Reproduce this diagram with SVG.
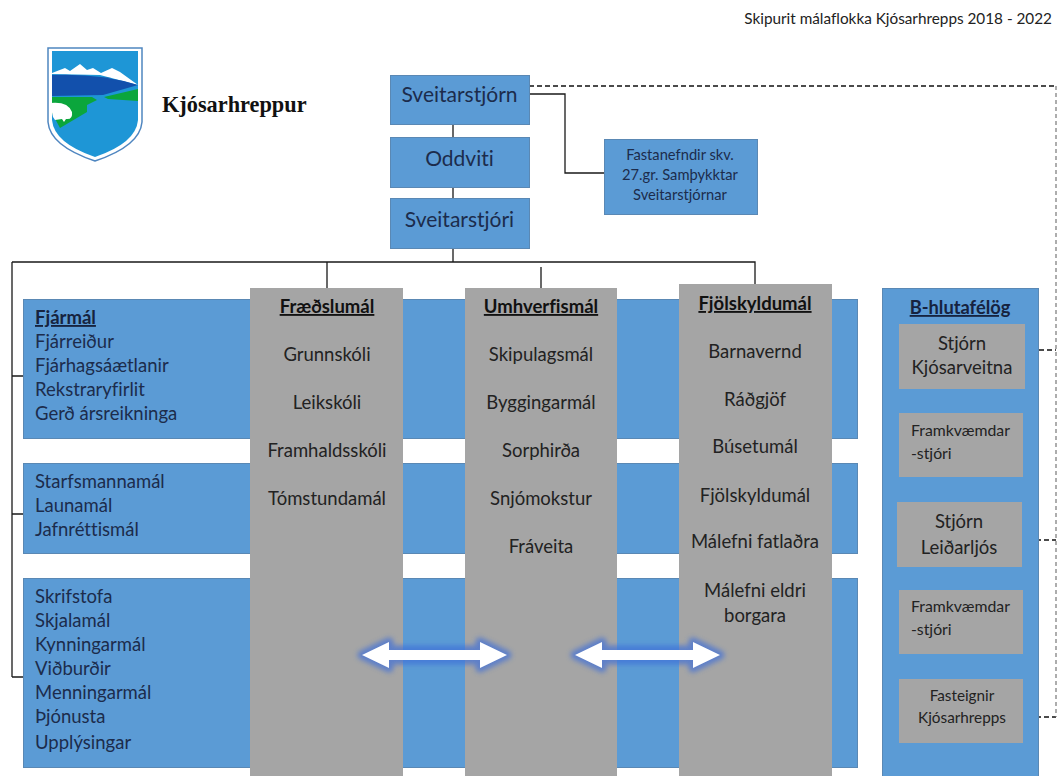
<svg xmlns="http://www.w3.org/2000/svg" width="1057" height="776" viewBox="0 0 1057 776">
<defs>
<filter id="glow" x="-20%" y="-80%" width="140%" height="260%"><feGaussianBlur stdDeviation="2.800"/></filter>
<g id="dbl"><path d="M0 0L27-13V-5H118V-13L145 0L118 13V5H27V13Z" fill="#3f6fd8" stroke="#3f6fd8" stroke-width="9" stroke-linejoin="round" opacity=".7" filter="url(#glow)"/><path d="M0 0L27-13V-5H118V-13L145 0L118 13V5H27V13Z" fill="#fff"/></g>
</defs>
<style>
text{font-family:Lato,"Liberation Sans",sans-serif;fill:#1c2c4c;font-variant-ligatures:none}
.l{font-size:18.500px}
.c{text-anchor:middle}
.g{font-size:18.500px;fill:#222;text-anchor:middle}
.b{font-weight:700;text-decoration:underline;fill:#111}
.blue{fill:#5b9bd5;stroke:#5a88b4;stroke-width:1}
.grey{fill:#a5a5a5}
.ln{fill:none;stroke:#1a1a1a;stroke-width:1.300}
.da{fill:none;stroke:#111;stroke-width:1.400;stroke-dasharray:5 3}
.dv{fill:none;stroke:#777;stroke-width:1.200;stroke-dasharray:4 3}
</style>
<rect width="1057" height="776" fill="#fff"/>
<text id="title" x="1052" y="24" text-anchor="end" style="font-size:15.300px;fill:#222">Skipurit málaflokka Kjósarhrepps 2018 - 2022</text>

<g id="logo">
<path d="M48 48H142V122Q140 146 95 161Q50 146 48 122Z" fill="#fff" stroke="#4f86c0" stroke-width="1.500"/>
<path d="M52 51H138V120Q136 143 95 157Q54 143 52 120Z" fill="#1e96d6"/>
<path d="M52 73L65 68L70 71L80 64L87 70L93 68L101 73L112 68L120 72L138 85L100 75L52 74Z" fill="#fff"/>
<path d="M52 75Q100 73 138 85L103 95L52 96Z" fill="#1250ac"/>
<path d="M52 97H92L97 100L87 105L87 112L60 128L52 113Z" fill="#0ba63c"/>
<path d="M104 97L138 89V101L108 99Z" fill="#0ba63c"/>
<path d="M50 103Q68 101 72 112Q73 120 66 119L64 122L62 119L55 120L53 117Z" fill="#fff"/>
</g>
<text id="kj" x="162" y="112" style="font-family:'Liberation Serif',serif;font-weight:700;font-size:22.300px;fill:#111">Kjósarhreppur</text>

<g id="connectors">
<path class="ln" d="M453 124V137M453 187V198M453 248V262M12 262H755V284M327 262V288M541 267V288M12 262V677M12 376H23M12 514H23M12 677H23M529 94H565V173H604"/>
<path class="da" d="M529 86H1056M1023 350H1056M1020 540H1056M1020 717H1056"/>
<path class="dv" d="M1056 86V717"/>
<path d="M958 389V413M958 567V590" fill="none" stroke="#2c4a7c" stroke-width="1.500"/>
</g>

<g id="n-sveitarstjorn"><rect class="blue" x="390.500" y="75.500" width="139" height="49"/><text class="c" x="459.500" y="102" style="font-size:21px">Sveitarstjórn</text></g>
<g id="n-oddviti"><rect class="blue" x="390.500" y="137.500" width="139" height="50"/><text class="c" x="459.500" y="166" style="font-size:21px">Oddviti</text></g>
<g id="n-sveitarstjori"><rect class="blue" x="390.500" y="198.500" width="139" height="50"/><text class="c" x="459.500" y="227" style="font-size:21px">Sveitarstjóri</text></g>
<g id="n-fastanefndir"><rect class="blue" x="604.500" y="139.500" width="153" height="75"/><text class="c" x="680" y="160" style="font-size:14.700px">Fastanefndir skv.</text><text class="c" x="680" y="180" style="font-size:14.700px">27.gr. Samþykktar</text><text class="c" x="680" y="200" style="font-size:14.700px">Sveitarstjórnar</text></g>

<g id="n-fjarmal"><rect class="blue" x="23.500" y="299.500" width="834" height="139"/>
<text class="l b" x="35" y="324" style="fill:#16233f">Fjármál</text><text class="l" x="35" y="348">Fjárreiður</text><text class="l" x="35" y="372">Fjárhagsáætlanir</text><text class="l" x="35" y="396">Rekstraryfirlit</text><text class="l" x="35" y="420">Gerð ársreikninga</text></g>
<g id="n-starfsmanna"><rect class="blue" x="23.500" y="463.500" width="834" height="90"/>
<text class="l" x="35" y="488">Starfsmannamál</text><text class="l" x="35" y="512">Launamál</text><text class="l" x="35" y="536">Jafnréttismál</text></g>
<g id="n-skrifstofa"><rect class="blue" x="23.500" y="578.500" width="834" height="189"/>
<text class="l" x="35" y="603">Skrifstofa</text><text class="l" x="35" y="627">Skjalamál</text><text class="l" x="35" y="651">Kynningarmál</text><text class="l" x="35" y="675">Viðburðir</text><text class="l" x="35" y="699">Menningarmál</text><text class="l" x="35" y="723">Þjónusta</text><text class="l" x="35" y="749">Upplýsingar</text></g>

<g id="n-fraedslu"><rect class="grey" x="250" y="288" width="153" height="488"/>
<text class="g b" x="327" y="313">Fræðslumál</text><text class="g" x="327" y="361">Grunnskóli</text><text class="g" x="327" y="409">Leikskóli</text><text class="g" x="327" y="457">Framhaldsskóli</text><text class="g" x="327" y="505">Tómstundamál</text></g>
<g id="n-umhverfis"><rect class="grey" x="465" y="288" width="152" height="488"/>
<text class="g b" x="541" y="313">Umhverfismál</text><text class="g" x="541" y="361">Skipulagsmál</text><text class="g" x="541" y="409">Byggingarmál</text><text class="g" x="541" y="457">Sorphirða</text><text class="g" x="541" y="505">Snjómokstur</text><text class="g" x="541" y="553">Fráveita</text></g>
<g id="n-fjolskyldu"><rect class="grey" x="679" y="284" width="153" height="492"/>
<text class="g b" x="755" y="310">Fjölskyldumál</text><text class="g" x="755" y="358">Barnavernd</text><text class="g" x="755" y="406">Ráðgjöf</text><text class="g" x="755" y="453">Búsetumál</text><text class="g" x="755" y="502">Fjölskyldumál</text><text class="g" x="755" y="548">Málefni fatlaðra</text><text class="g" x="755" y="597">Málefni eldri</text><text class="g" x="755" y="622">borgara</text></g>

<use href="#dbl" x="362" y="655"/>
<use href="#dbl" x="575" y="655"/>

<g id="n-bhluta"><rect class="blue" x="882.500" y="288.500" width="156" height="489"/><text class="c b" x="960" y="314" style="font-size:18.300px;fill:#16233f">B-hlutafélög</text></g>
<g id="n-kjosarveitna"><rect class="grey" x="899" y="324" width="126" height="65"/><text class="g" x="962" y="350">Stjórn</text><text class="g" x="962" y="374">Kjósarveitna</text></g>
<g id="n-framk1"><rect class="grey" x="899" y="413" width="124" height="64"/><text x="911" y="436" style="font-size:15.800px;fill:#222">Framkvæmdar</text><text x="911" y="459" style="font-size:15.800px;fill:#222">-stjóri</text></g>
<g id="n-leidarljos"><rect class="grey" x="897" y="502" width="125" height="65"/><text class="g" x="959" y="528">Stjórn</text><text class="g" x="959" y="554">Leiðarljós</text></g>
<g id="n-framk2"><rect class="grey" x="899" y="590" width="124" height="64"/><text x="911" y="612" style="font-size:15.800px;fill:#222">Framkvæmdar</text><text x="911" y="635" style="font-size:15.800px;fill:#222">-stjóri</text></g>
<g id="n-fasteignir"><rect class="grey" x="899" y="679" width="124" height="64"/><text class="c" x="962" y="701" style="font-size:15.300px;fill:#222">Fasteignir</text><text class="c" x="962" y="723" style="font-size:15.300px;fill:#222">Kjósarhrepps</text></g>
</svg>
